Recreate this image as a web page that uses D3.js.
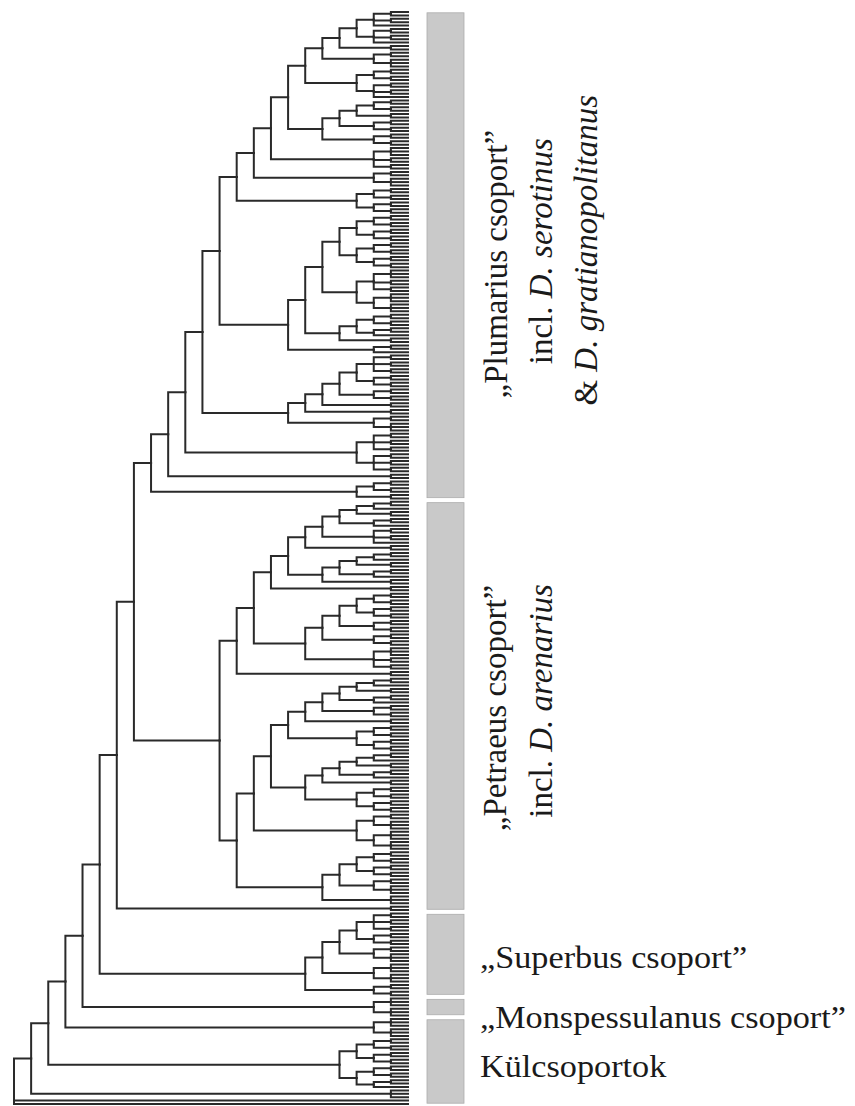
<!DOCTYPE html>
<html>
<head>
<meta charset="utf-8">
<script src="https://cdn.jsdelivr.net/npm/d3@7"></script>
<style>
body { margin: 0; background: #fff; }
svg { display: block; }
</style>
</head>
<body>
<svg id="chart" width="855" height="1106"></svg>
<script>
// small recurring sub-clades, written as Newick with unnamed leaves
var c2 = "(,)", c3 = "(,,)", l3 = "((,),)";
var q4 = "((,),(,))", q5 = "((,),(,,))", p5 = "((,),(,),)", q6 = "((,,),(,,))", q7 = "((,,),(,),(,))";
var t5 = "(((,),),(,))", t6 = "(((,),(,)),(,))", t7 = "(((,),(,)),((,),))", t8 = "(((,),(,)),((,),(,)))";
var t9 = "(((,),(,)),((,),(,),))", t10 = "(((,),(,),(,)),((,),(,)))", t11 = "(((,),(,,)),((,,),(,,)))";
var t12 = "(((,),(,),(,)),((,),(,),(,)))", t13 = "(((,,),(,),(,)),((,,),(,,)))";

// a list [a, b, c, ...] is a ladder: (((a,b),c),...)
var plumarius = ["(((,),(,),),((,),(,),))", c2, q5, t9, [t6, q4, q4], q7, q5, t8,
  [t8, t8, t13, [t7, c2], l3],
  [t10, q4, c2, c2, q5],
  t12, c2, t6];
var petraeus = [
  [[t5, l3, p5], c2, [t5, l3, c2], c2, [t8, q4, q4, q7], c2],
  [[t5, l3, q4, c2], t8, [[t5, l3, c2], t8], t11, [t8, q5, c3]]
];
var superbus = [t10, q5, q6, q4];
var monspessulanus = q6;
var outgroupA = q6;
var outgroupB = [t8, t7];
// "," = two single leaves hanging from the root
var tree = [plumarius, petraeus, c2, superbus, monspessulanus, outgroupA, outgroupB, c3, ","];

var groupSizes = [144, 121, 25, 6, 26];
var rotatedLabels = [
  { group: 0, lines: [[["„Plumarius csoport”", false]], [["incl. ", false], ["D. serotinus", true]], [["& ", false], ["D. gratianopolitanus", true]]] },
  { group: 1, lines: [[["„Petraeus csoport”", false]], [["incl. ", false], ["D. arenarius", true]]] }
];
var flatLabels = ["„Superbus csoport”", "„Monspessulanus csoport”", "Külcsoportok"];

function toNewick(x) {
  if (typeof x === "string") return x;
  return x.slice(1).reduce(function(acc, s) { return "(" + acc + "," + toNewick(s) + ")"; }, toNewick(x[0]));
}

function parseNewick(s) {
  var i = 0;
  function read() {
    var n = {};
    if (s[i] === "(") {
      n.children = [];
      do { i++; n.children.push(read()); } while (s[i] === ",");
      i++;
    }
    return n;
  }
  return read();
}

var svg = d3.select("#chart");
var font = "'Liberation Serif', 'Times New Roman', serif";

var root = d3.hierarchy(parseNewick(toNewick(tree) + ";"));
var leaves = root.leaves();
var y = d3.scaleLinear().domain([0, leaves.length - 1]).range([12, 1104]);
var x = d3.scaleLinear().domain([root.height, 0]).range([14, 408]);
var step = y(1) - y(0);

leaves.forEach(function(d, i) { d.py = y(i); });
root.eachAfter(function(d) {
  if (d.children) d.py = (d.children[0].py + d.children[d.children.length - 1].py) / 2;
  d.px = x(d.height);
});

svg.append("g")
  .attr("fill", "none")
  .attr("stroke", "#2a2a2a")
  .attr("stroke-width", 2)
  .attr("stroke-linecap", "square")
  .selectAll("path")
  .data(root.links())
  .join("path")
  .attr("d", function(l) { return "M" + l.source.px + "," + l.source.py + "V" + l.target.py + "H" + l.target.px; });

// group bars
var bars = [], start = 0;
groupSizes.forEach(function(n) {
  bars.push({ y0: y(start) - step / 2 + 2.5, y1: y(start + n - 1) + step / 2 - 2.5 });
  start += n;
});
svg.append("g").selectAll("rect")
  .data(bars)
  .join("rect")
  .attr("x", 427).attr("width", 37)
  .attr("y", function(d) { return d.y0; })
  .attr("height", function(d) { return d.y1 - d.y0; })
  .attr("fill", "#c9c9c9")
  .attr("stroke", "#acacac")
  .attr("stroke-width", 0.8);

// rotated labels (baseline x, centre offset per line)
var rotPos = [
  [[507, 9], [552, -4], [597, -5]],
  [[506, 2], [552, -5]]
];
rotatedLabels.forEach(function(lab, k) {
  var b = bars[lab.group], cy = (b.y0 + b.y1) / 2;
  lab.lines.forEach(function(segs, j) {
    var t = svg.append("text")
      .attr("transform", "translate(" + rotPos[k][j][0] + "," + (cy + rotPos[k][j][1]) + ") rotate(-90)")
      .attr("text-anchor", "middle")
      .attr("font-family", font)
      .attr("font-size", 33)
      .attr("fill", "#1a1a1a");
    segs.forEach(function(s) {
      t.append("tspan").attr("font-style", s[1] ? "italic" : "normal").text(s[0]);
    });
  });
});

svg.append("g").selectAll("text")
  .data(flatLabels)
  .join("text")
  .attr("transform", function(d, i) { return "translate(480," + [968, 1028, 1077][i] + ") scale(1.07,1)"; })
  .attr("font-family", font)
  .attr("font-size", 32)
  .attr("fill", "#1a1a1a")
  .text(function(d) { return d; });
</script>
</body>
</html>
